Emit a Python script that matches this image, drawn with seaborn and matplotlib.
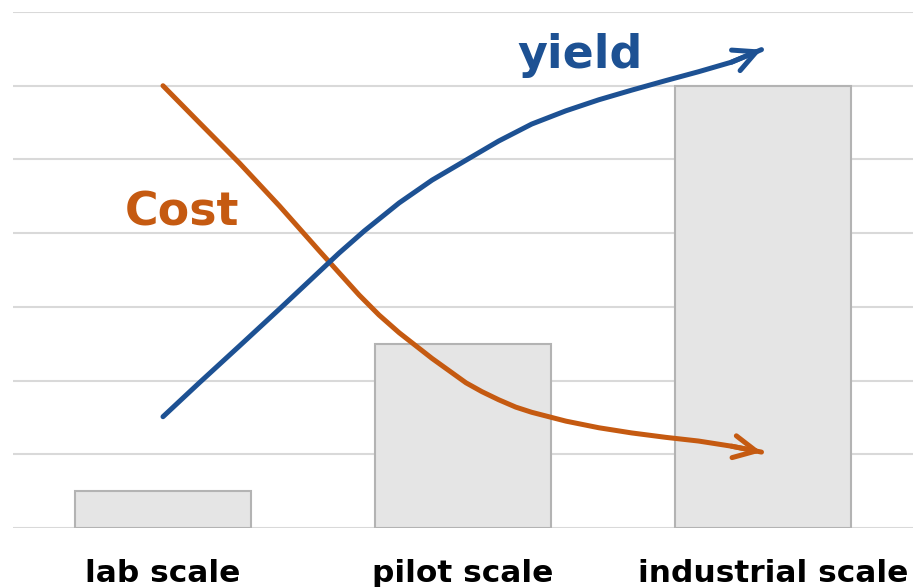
import numpy as np
import matplotlib
matplotlib.use("Agg")
import matplotlib.pyplot as plt
import matplotlib.transforms as mtransforms
import seaborn as sns
import pandas as pd

sns.set_theme(style="white")
plt.rcParams["font.family"] = ["DejaVu Sans"]

# data
scales = ["lab scale", "pilot scale", "industrial scale"]
bar_values = [0.5, 2.5, 6.0]

# curve points (x in category units, y in bar units)
cost_x = [0.000, 0.121, 0.255, 0.388, 0.521, 0.654, 0.720, 0.787, 0.897,
          1.010, 1.063, 1.119, 1.176, 1.229, 1.286, 1.343, 1.453, 1.562,
          1.676, 1.785, 1.895, 1.995]
cost_y = [6.00, 5.50, 4.95, 4.37, 3.76, 3.16, 2.89, 2.65, 2.30,
          1.97, 1.85, 1.74, 1.64, 1.57, 1.51, 1.45, 1.36, 1.29,
          1.23, 1.18, 1.11, 1.03]

yield_x = [0.000, 0.121, 0.255, 0.388, 0.498, 0.587, 0.671, 0.787, 0.897,
           1.010, 1.119, 1.229, 1.343, 1.453, 1.562, 1.676, 1.785, 1.895,
           1.995]
yield_y = [1.51, 1.97, 2.47, 2.97, 3.39, 3.73, 4.03, 4.41, 4.72,
           4.99, 5.25, 5.48, 5.66, 5.81, 5.94, 6.07, 6.19, 6.32,
           6.49]

blue = "#1D5193"
orange = "#C55A11"

df_bars = pd.DataFrame({"scale": scales, "value": bar_values})
df_cost = pd.DataFrame({"x": cost_x, "y": cost_y})
df_yield = pd.DataFrame({"x": yield_x, "y": yield_y})

fig = plt.figure(figsize=(9.15, 5.87), dpi=100)
ax = fig.add_axes([0.0142, 0.1005, 0.9836, 0.879])

sns.barplot(data=df_bars, x="scale", y="value", color="#E5E5E5",
            edgecolor="#B3B3B3", linewidth=1.5, width=0.587,
            saturation=1, ax=ax, zorder=2)

# curves with open arrowheads at the end
for df_c, col in [(df_cost, orange), (df_yield, blue)]:
    sns.lineplot(data=df_c, x="x", y="y", sort=False, color=col,
                 lw=3.6, ax=ax, zorder=3, solid_capstyle="round",
                 solid_joinstyle="round")
    ax.annotate("", xy=(df_c.x.iloc[-1], df_c.y.iloc[-1]),
                xytext=(df_c.x.iloc[-2], df_c.y.iloc[-2]),
                arrowprops=dict(arrowstyle="->,head_length=0.4,head_width=0.2",
                                color=col, lw=3.6, mutation_scale=40,
                                shrinkA=0, shrinkB=0, capstyle="round",
                                joinstyle="round"),
                zorder=4)

ax.text(1.18, 6.24, "yield", color=blue, fontsize=33, fontweight="bold",
        ha="left", va="baseline", zorder=5)
ax.text(-0.128, 4.11, "Cost", color=orange, fontsize=33, fontweight="bold",
        ha="left", va="baseline", zorder=5)

ax.set_xlim(-0.5, 2.5)
ax.set_ylim(0, 7)
ax.set_yticks(range(8))
ax.set_yticklabels([])
ax.yaxis.grid(True, color="#D9D9D9", lw=1.5, zorder=0)
ax.set_axisbelow(True)
ax.set_xlabel("")
ax.set_ylabel("")
ax.tick_params(axis="x", length=0, pad=22, labelsize=22.5)
ax.tick_params(axis="y", length=0)
labels = ax.get_xticklabels()
for lbl in labels:
    lbl.set_fontweight("bold")
    lbl.set_color("black")
# last label sits a little right of its bar in the original
labels[-1].set_transform(labels[-1].get_transform() +
                         mtransforms.ScaledTranslation(0.10, 0, fig.dpi_scale_trans))
sns.despine(ax=ax, left=True, bottom=True)

fig.savefig("out.png", dpi=100)
